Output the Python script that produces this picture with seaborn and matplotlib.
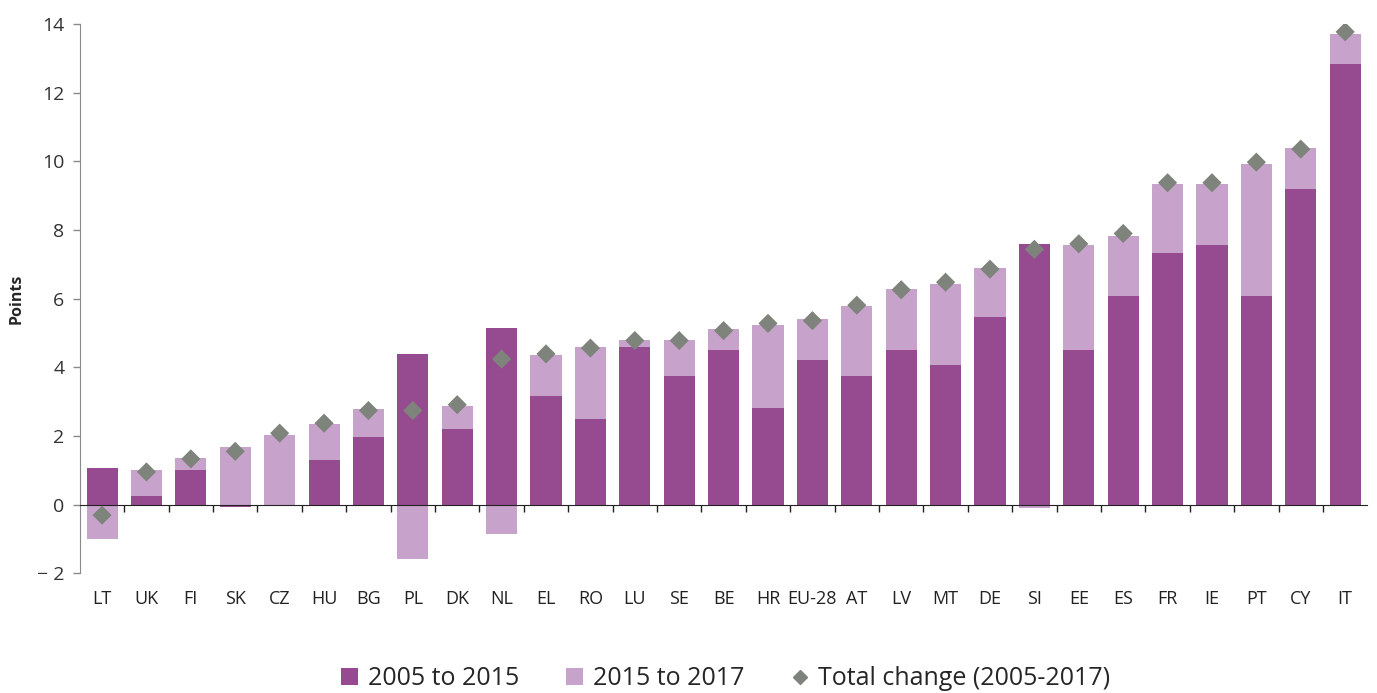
import numpy as np
import pandas as pd
import matplotlib
matplotlib.use("Agg")
import matplotlib.pyplot as plt
import seaborn as sns
from matplotlib.lines import Line2D
from matplotlib.patches import Patch

# data
countries = ["LT", "UK", "FI", "SK", "CZ", "HU", "BG", "PL", "DK", "NL",
             "EL", "RO", "LU", "SE", "BE", "HR", "EU-28", "AT", "LV", "MT",
             "DE", "SI", "EE", "ES", "FR", "IE", "PT", "CY", "IT"]
change_2005_2015 = [1.05, 0.26, 1.00, -0.08, -0.02, 1.30, 1.97, 4.40, 2.19, 5.14,
                    3.16, 2.49, 4.58, 3.76, 4.51, 2.80, 4.20, 3.74, 4.50, 4.06,
                    5.48, 7.60, 4.50, 6.07, 7.33, 7.56, 6.07, 9.20, 12.83]
change_2015_2017 = [-1.00, 0.74, 0.37, 1.69, 2.04, 1.06, 0.82, -1.60, 0.68, -0.86,
                    1.20, 2.09, 0.23, 1.05, 0.60, 2.44, 1.20, 2.04, 1.79, 2.38,
                    1.41, -0.11, 3.06, 1.77, 2.01, 1.78, 3.87, 1.19, 0.89]
total_change = [-0.31, 0.95, 1.33, 1.55, 2.08, 2.37, 2.74, 2.74, 2.91, 4.24,
                4.39, 4.56, 4.78, 4.78, 5.07, 5.28, 5.36, 5.81, 6.26, 6.48,
                6.86, 7.44, 7.60, 7.90, 9.38, 9.38, 9.98, 10.36, 13.78]

dark = "#964B91"
light = "#C7A3CB"
grey = "#7E837B"

sns.set_style("white")
plt.rcParams["font.family"] = ["Open Sans", "DejaVu Sans"]

df = pd.DataFrame({
    "country": countries,
    "a": change_2005_2015,
    "b": change_2015_2017,
    "total": total_change,
})
x = np.arange(len(df))

# stack positives on positives and negatives on negatives (Excel style)
a = df["a"].values
b = df["b"].values
b_bottom = np.where(b >= 0, np.clip(a, 0, None), np.clip(a, None, 0))

fig = plt.figure(figsize=(13.77, 6.93), dpi=100)
ax = fig.add_axes([0.058, 0.173, 0.935, 0.792])

sns.barplot(data=df, x="country", y="a", color=dark, width=0.7,
            saturation=1, linewidth=0, ax=ax, zorder=2)
ax.bar(x, b, bottom=b_bottom, width=0.7, color=light, linewidth=0, zorder=2)
sns.scatterplot(data=df, x="country", y="total", marker="D", s=95,
                color=grey, edgecolor="none", ax=ax, zorder=3)

ax.set_ylim(-2, 14)
ax.set_xlim(-0.5, len(df) - 0.5)
ax.set_yticks(np.arange(-2, 15, 2))
ax.set_yticklabels(["\u2212 2" if v == -2 else str(v) for v in range(-2, 15, 2)])
ax.set_xlabel("")
ax.set_ylabel("Points", fontsize=11.5, fontweight="bold")
ax.yaxis.set_label_coords(-0.043, 0.5)

for side in ["top", "right"]:
    ax.spines[side].set_visible(False)
ax.spines["left"].set_color("#8a8a8a")
ax.spines["bottom"].set_position(("data", 0))
ax.spines["bottom"].set_color("#222222")

ax.tick_params(axis="y", left=True, direction="out", length=5, width=1,
               color="#8a8a8a", labelsize=14, labelcolor="#333333", pad=6)
ax.tick_params(axis="x", bottom=False, labelsize=13, labelcolor="#222222",
               pad=58)
ax.set_xticks(x, countries)
ax.set_xticks(np.arange(0.5, len(df) - 0.5, 1), minor=True)
ax.tick_params(axis="x", which="minor", bottom=True, direction="out",
               length=5, width=1, color="#222222")

handles = [
    Patch(facecolor=dark, edgecolor="none", label="2005 to 2015"),
    Patch(facecolor=light, edgecolor="none", label="2015 to 2017"),
    Line2D([], [], marker="D", color=grey, linestyle="none", markersize=7,
           label="Total change (2005-2017)"),
]
fig.legend(handles=handles, loc="lower center", bbox_to_anchor=(0.527, -0.03),
           ncol=3, frameon=False, fontsize=18, handlelength=0.65,
           handleheight=0.65, handletextpad=0.4, columnspacing=1.9)

fig.savefig("out.png", dpi=100)
